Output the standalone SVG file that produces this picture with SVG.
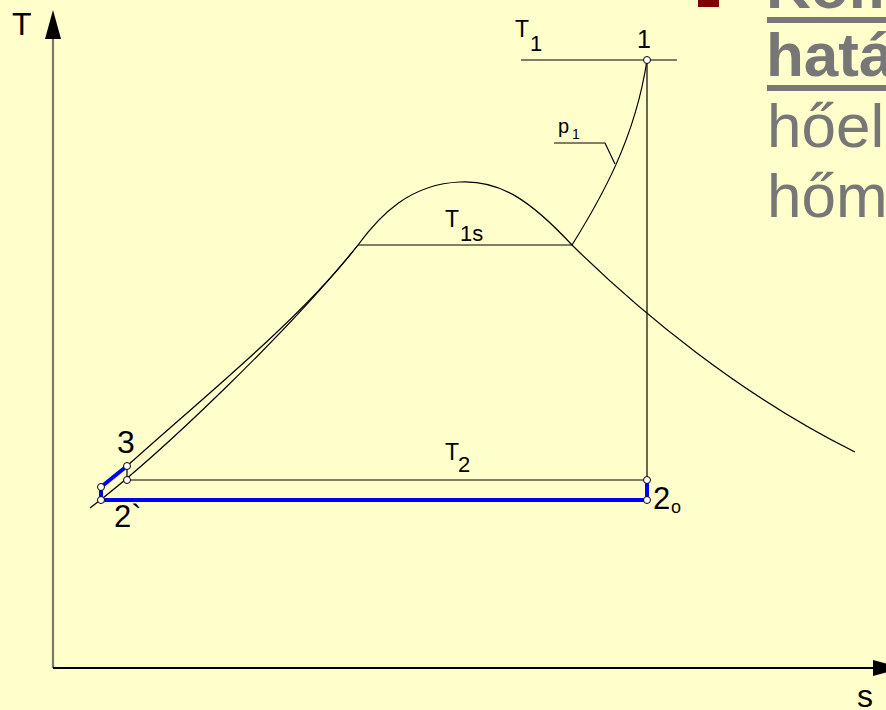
<svg xmlns="http://www.w3.org/2000/svg" width="886" height="710" viewBox="0 0 886 710">
<style>
.ln{fill:none;stroke:#000;stroke-width:1.2}
.bl{fill:none;stroke:#0000ff;stroke-linecap:round}
.pt{fill:#fff;stroke:#000;stroke-width:1}
.lb{font-family:"Liberation Sans",Arial,sans-serif;fill:#000}
.sl{font-family:"Liberation Sans",Arial,sans-serif;fill:#777777;font-size:62px}
</style>
<rect x="0" y="0" width="886" height="710" fill="#FFFFCC"/>
<g id="slide-text">
<rect x="698" y="-15" width="21" height="22" fill="#800000"/>
<text class="sl" x="766" y="8" font-weight="bold">Kom</text>
<rect x="767" y="17" width="130" height="6" fill="#777777"/>
<text class="sl" x="766" y="76" font-weight="bold">hatá</text>
<rect x="767" y="85" width="130" height="6" fill="#777777"/>
<text class="sl" x="767" y="147">hőel</text>
<text class="sl" x="767" y="217">hőm</text>
</g>
<g id="axes">
<line x1="53" y1="36" x2="53" y2="668" stroke="#7a7a66" stroke-width="2.2"/>
<polygon points="53,10 45,39 61,39" fill="#000"/>
<line x1="53" y1="668" x2="876" y2="668" stroke="#000" stroke-width="2"/>
<polygon points="873,660 873,676 902,668" fill="#000"/>
<text class="lb" x="12" y="35" font-size="32">T</text>
<text class="lb" x="857" y="707" font-size="32">s</text>
</g>
<g id="connectors">
<path class="ln" d="M90,508 C160,455 290,330 358,245 C380,215 410,184 460,182 C500,180 530,200 572,245 C640,312 740,395 855,452"/>
<path class="ln" d="M127,466 C200,400 300,320 358,245"/>
<line class="ln" x1="358" y1="245" x2="572" y2="245"/>
<path class="ln" d="M572,245 C600,200 635,140 647,60"/>
<line class="ln" x1="521" y1="60" x2="677" y2="60"/>
<line class="ln" x1="647" y1="60" x2="647" y2="480"/>
<line class="ln" x1="127" y1="480" x2="647" y2="480"/>
<line class="ln" x1="127" y1="466" x2="127" y2="480"/>
<polyline class="ln" points="554,143 605,143 615,164"/>
<line class="bl" x1="101" y1="500" x2="647" y2="500" stroke-width="4"/>
<line class="bl" x1="647" y1="480" x2="647" y2="500" stroke-width="4"/>
<polyline class="bl" points="101,500 101,487 127,466" stroke-width="4" stroke-linejoin="round"/>
</g>
<g id="node-1"><circle class="pt" cx="647" cy="60" r="3.5"/><text class="lb" x="637" y="48" font-size="25">1</text></g>
<g id="node-2o"><circle class="pt" cx="647" cy="480" r="3.5"/><circle class="pt" cx="647" cy="500" r="3.5"/><text class="lb" x="653" y="509" font-size="31">2</text><text class="lb" x="671" y="513" font-size="18">o</text></g>
<g id="node-3"><circle class="pt" cx="127" cy="466" r="3.5"/><circle class="pt" cx="127" cy="480" r="3.5"/><text class="lb" x="117" y="453" font-size="32">3</text></g>
<g id="node-2prime"><circle class="pt" cx="101" cy="487" r="3.5"/><circle class="pt" cx="101" cy="500" r="3.5"/><text class="lb" x="114" y="527" font-size="31">2`</text></g>
<g id="labels">
<text class="lb" x="515" y="37" font-size="23">T</text><text class="lb" x="530" y="51" font-size="22">1</text>
<text class="lb" x="558" y="133" font-size="20">p</text><text class="lb" x="572" y="139" font-size="14">1</text>
<text class="lb" x="445" y="227" font-size="23">T</text><text class="lb" x="460" y="241" font-size="22">1s</text>
<text class="lb" x="445" y="460" font-size="23">T</text><text class="lb" x="458" y="472" font-size="22">2</text>
</g>
</svg>
